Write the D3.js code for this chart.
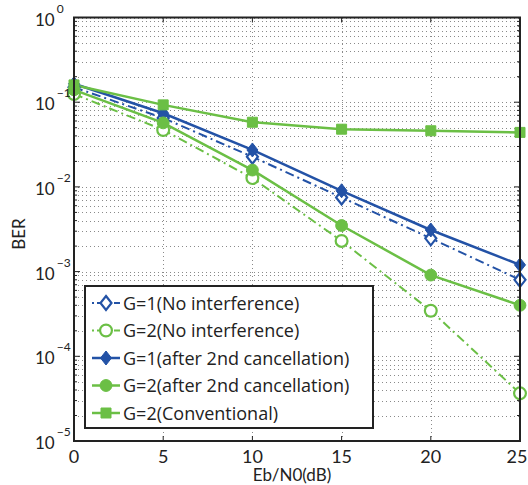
<!DOCTYPE html>
<html>
<head>
<meta charset="utf-8">
<script src="https://cdn.jsdelivr.net/npm/d3@7"></script>
<style>
  body { margin: 0; background: #fff; }
  text { font-family: Lato, "Open Sans", sans-serif; fill: #222; }
  .leg text { font-family: "Open Sans", Lato, sans-serif; }
</style>
</head>
<body>
<div id="vis"></div>
<script>
var width = 528,
    height = 485;

// data
var snr = [0, 5, 10, 15, 20, 25];
var g1NoInterf = [0.15, 0.065, 0.0227, 0.0075, 0.00247, 0.0008];
var g2NoInterf = [0.125, 0.047, 0.0127, 0.0023, 0.000345, 0.0000365];
var g1After = [0.165, 0.074, 0.0273, 0.009, 0.0031, 0.0012];
var g2After = [0.14, 0.057, 0.0158, 0.0035, 0.00091, 0.0004];
var g2Conv = [0.16, 0.093, 0.058, 0.048, 0.046, 0.044];
var xTicks = [0, 5, 10, 15, 20, 25];
var yDecades = [0, -1, -2, -3, -4, -5];

var blue = "#2352a6",
    green = "#6bbf45";

var series = [
  {name: "G=1(No interference)", values: g1NoInterf, color: blue, dash: "9,4,2,4", marker: "diamond", filled: false},
  {name: "G=2(No interference)", values: g2NoInterf, color: green, dash: "9,4,2,4", marker: "circle", filled: false},
  {name: "G=1(after 2nd cancellation)", values: g1After, color: blue, dash: null, marker: "diamond", filled: true},
  {name: "G=2(after 2nd cancellation)", values: g2After, color: green, dash: null, marker: "circle", filled: true},
  {name: "G=2(Conventional)", values: g2Conv, color: green, dash: null, marker: "square", filled: true}
];

var margin = {left: 74, right: 8, top: 17.5, bottom: 44};

var svg = d3.select("#vis").append("svg")
    .attr("width", width)
    .attr("height", height);

var x = d3.scaleLinear().domain([0, 25]).range([margin.left, width - margin.right]);
var y = d3.scaleLog().domain([1e-5, 1]).range([height - margin.bottom, margin.top]);

var x0 = x.range()[0], x1 = x.range()[1], y0 = y.range()[0], y1 = y.range()[1];

// grid
var minor = [];
for (var e = -5; e < 0; e++) {
  for (var k = 2; k <= 9; k++) minor.push(k * Math.pow(10, e));
}
var grid = svg.append("g").attr("stroke", "#8a8a8a").attr("stroke-width", 1).attr("stroke-dasharray", "1,3");
grid.selectAll(".gy").data(minor.concat(yDecades.map(function(d) { return Math.pow(10, d); })))
  .enter().append("line")
    .attr("x1", x0).attr("x2", x1)
    .attr("y1", function(d) { return Math.round(y(d)) + 0.5; })
    .attr("y2", function(d) { return Math.round(y(d)) + 0.5; });
grid.selectAll(".gx").data(xTicks.slice(1, -1))
  .enter().append("line")
    .attr("y1", y0).attr("y2", y1)
    .attr("x1", function(d) { return Math.round(x(d)) + 0.5; })
    .attr("x2", function(d) { return Math.round(x(d)) + 0.5; });

// tick marks inside the box
var ticks = svg.append("g").attr("stroke", "#222").attr("stroke-width", 1);
xTicks.forEach(function(d) {
  ticks.append("line").attr("x1", x(d)).attr("x2", x(d)).attr("y1", y0).attr("y2", y0 - 5);
  ticks.append("line").attr("x1", x(d)).attr("x2", x(d)).attr("y1", y1).attr("y2", y1 + 5);
});
minor.forEach(function(d) {
  ticks.append("line").attr("x1", x0).attr("x2", x0 + 3).attr("y1", y(d)).attr("y2", y(d));
  ticks.append("line").attr("x1", x1).attr("x2", x1 - 3).attr("y1", y(d)).attr("y2", y(d));
});
yDecades.forEach(function(d) {
  var v = Math.pow(10, d);
  ticks.append("line").attr("x1", x0).attr("x2", x0 + 6).attr("y1", y(v)).attr("y2", y(v));
  ticks.append("line").attr("x1", x1).attr("x2", x1 - 6).attr("y1", y(v)).attr("y2", y(v));
});

// lines
var line = d3.line()
    .x(function(d, i) { return x(snr[i]); })
    .y(function(d) { return y(d); });

function markerPath(type) {
  if (type == "diamond") return "M0,-7L5.5,0L0,7L-5.5,0Z";
  if (type == "square") return d3.symbol().type(d3.symbolSquare).size(100)();
  return d3.symbol().type(d3.symbolCircle).size(110)();
}

var plot = svg.append("g");
series.forEach(function(s) {
  plot.append("path")
    .datum(s.values)
    .attr("fill", "none")
    .attr("stroke", s.color)
    .attr("stroke-width", s.dash ? 2 : 2.5)
    .attr("stroke-dasharray", s.dash)
    .attr("d", line);
});
series.forEach(function(s) {
  plot.selectAll(null).data(s.values).enter().append("path")
    .attr("transform", function(d, i) { return "translate(" + x(snr[i]) + "," + y(d) + ")"; })
    .attr("d", markerPath(s.marker))
    .attr("fill", s.filled ? s.color : "#fff")
    .attr("stroke", s.color)
    .attr("stroke-width", s.filled ? 1 : 2.2);
});

// box
svg.append("rect")
    .attr("x", x0).attr("y", y1)
    .attr("width", x1 - x0).attr("height", y0 - y1)
    .attr("fill", "none").attr("stroke", "#222").attr("stroke-width", 2);

// tick labels
svg.selectAll(".xl").data(xTicks).enter().append("text")
    .attr("x", function(d, i) { return i == xTicks.length - 1 ? x(d) - 3 : x(d); })
    .attr("y", 463)
    .attr("text-anchor", "middle")
    .style("font-size", "18px")
    .text(function(d) { return d; });

var yl = svg.selectAll(".yl").data(yDecades).enter().append("text")
    .attr("x", 35)
    .attr("y", function(d) { return y(Math.pow(10, d)) + 8; })
    .style("font-size", "17px");
yl.append("tspan").text("10");
yl.append("tspan").attr("dx", 2).attr("dy", -13).style("font-size", "12px")
    .text(function(d) { return d == 0 ? "0" : "\u2212" + (-d); });

svg.append("text")
    .attr("x", 292)
    .attr("y", 481)
    .attr("text-anchor", "middle")
    .style("font-size", "17px")
    .text("Eb/N0(dB)");

svg.append("text")
    .attr("transform", "translate(25,234) rotate(-90)")
    .attr("text-anchor", "middle")
    .style("font-size", "17px")
    .text("BER");

// legend
var legend = svg.append("g").attr("class", "leg");
legend.append("rect")
    .attr("x", 85).attr("y", 286)
    .attr("width", 288).attr("height", 142)
    .attr("fill", "#fff").attr("stroke", "#222").attr("stroke-width", 2);

var item = legend.selectAll(".item").data(series).enter().append("g")
    .attr("transform", function(d, i) { return "translate(0," + (303 + i * 27.5) + ")"; });
item.append("line")
    .attr("x1", 92).attr("x2", 120)
    .attr("stroke", function(d) { return d.color; })
    .attr("stroke-width", function(d) { return d.dash ? 2 : 2.5; })
    .attr("stroke-dasharray", function(d) { return d.dash ? "2,3,9,3" : null; });
item.append("path")
    .attr("transform", "translate(106,0)")
    .attr("d", function(d) { return markerPath(d.marker); })
    .attr("fill", function(d) { return d.filled ? d.color : "#fff"; })
    .attr("stroke", function(d) { return d.color; })
    .attr("stroke-width", function(d) { return d.filled ? 1 : 2.2; });
item.append("text")
    .attr("x", 123)
    .attr("y", 6.5)
    .style("font-size", "18px")
    .text(function(d) { return d.name; });
</script>
</body>
</html>
